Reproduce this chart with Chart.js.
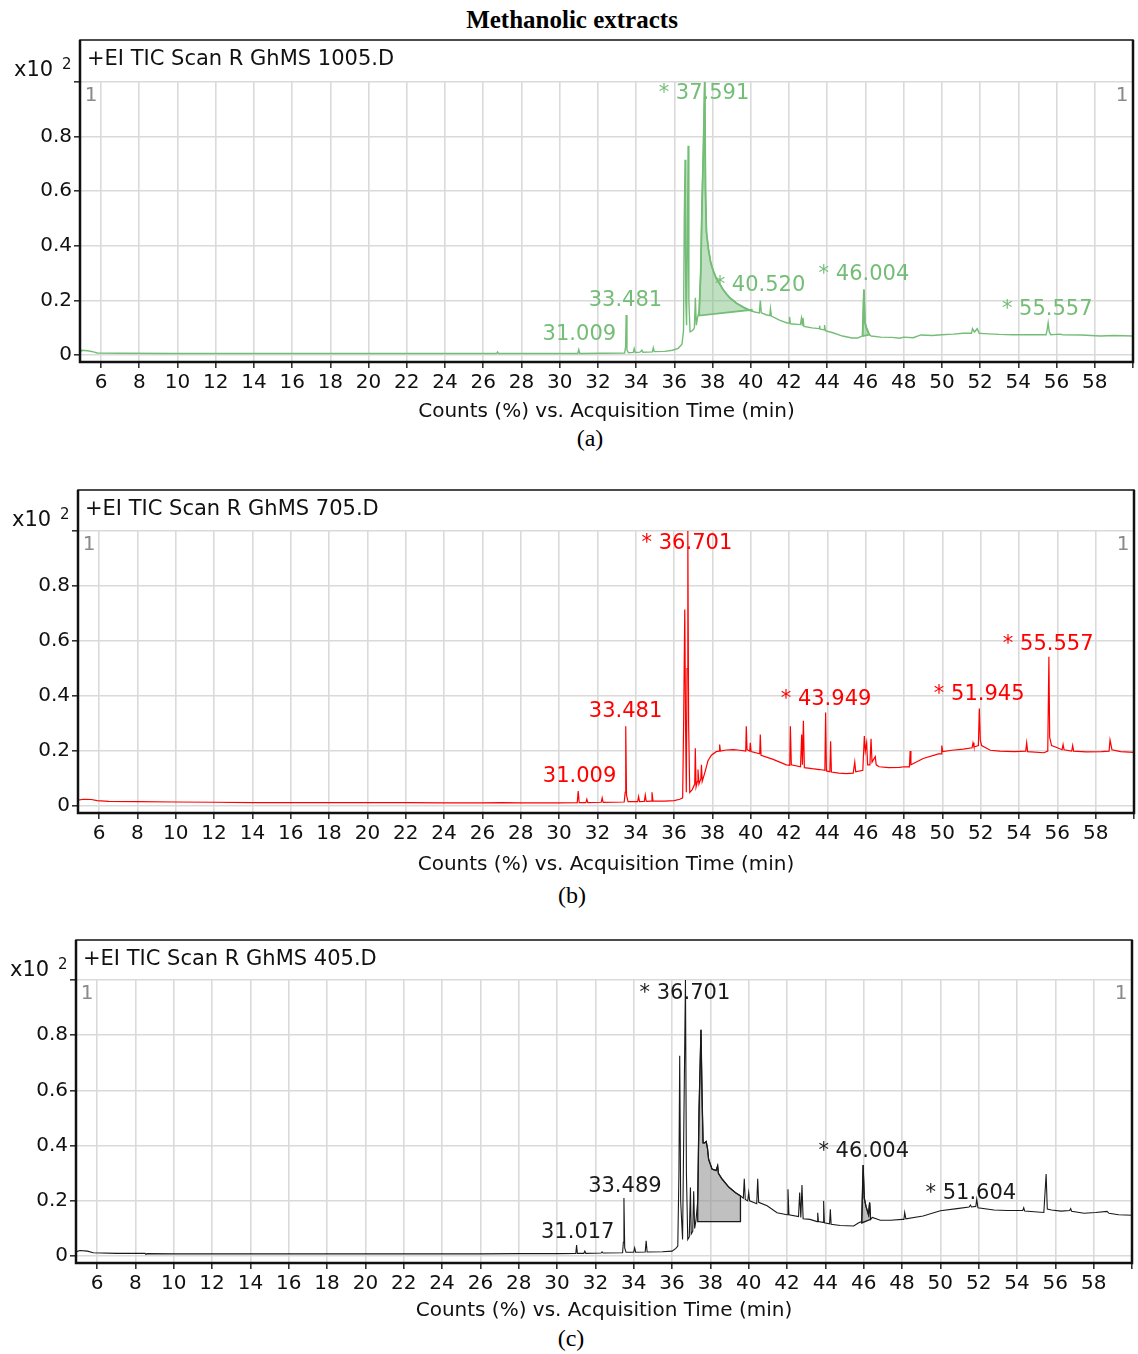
<!DOCTYPE html>
<html>
<head>
<meta charset="utf-8">
<script src="https://cdn.jsdelivr.net/npm/chart.js@4.4.1/dist/chart.umd.min.js"></script>
<style>
  html, body { margin: 0; padding: 0; background: #fff; }
  body { width: 1138px; height: 1354px; position: relative; overflow: hidden; }
  .wrap { position: absolute; left: 0; }
  #mainTitle { position: absolute; left: 0; width: 1144px; top: 6px; text-align: center;
    font: bold 25px 'Liberation Serif', 'DejaVu Serif', serif; color: #000; }
  .cap { position: absolute; width: 60px; text-align: center;
    font: 24px 'Liberation Serif', 'DejaVu Serif', serif; color: #000; }
</style>
</head>
<body>
<div id="mainTitle">Methanolic extracts</div>
<div class="wrap" id="wA"><canvas id="cA"></canvas></div>
<div class="wrap" id="wB"><canvas id="cB"></canvas></div>
<div class="wrap" id="wC"><canvas id="cC"></canvas></div>
<div class="cap" id="capA">(a)</div>
<div class="cap" id="capB">(b)</div>
<div class="cap" id="capC">(c)</div>
<script>
// ---------------- DATA ----------------
const timeTicks = [6,8,10,12,14,16,18,20,22,24,26,28,30,32,34,36,38,40,42,44,46,48,50,52,54,56,58,60];
const countTicks = [0, 0.2, 0.4, 0.6, 0.8, 1.0];
const headerA = '+EI TIC Scan R GhMS 1005.D';
const headerB = '+EI TIC Scan R GhMS 705.D';
const headerC = '+EI TIC Scan R GhMS 405.D';
const axisTitle = 'Counts (%) vs. Acquisition Time (min)';

// Panel (a) trace: [time (min), counts (x10^2)]
const traceA = [[4.9,0.01],[5.0,0.018],[5.3,0.016],[5.6,0.012],[5.8,0.008],[7,0.007],[10,0.006],[14,0.006],[18,0.006],[22,0.006],[26,0.006],[26.7,0.006],[26.75,0.012],[26.8,0.006],[28,0.006],[30,0.006],[30.95,0.006],[31.0,0.02],[31.05,0.006],[32.3,0.007],[33.4,0.008],[33.45,0.03],[33.48,0.147],[33.52,0.02],[33.6,0.009],[33.85,0.01],[33.9,0.024],[33.95,0.01],[34.2,0.011],[34.3,0.018],[34.35,0.011],[34.85,0.012],[34.9,0.027],[34.95,0.013],[35.5,0.014],[35.9,0.018],[36.2,0.025],[36.4,0.04],[36.48,0.09],[36.52,0.5],[36.56,0.715],[36.6,0.2],[36.64,0.11],[36.68,0.4],[36.72,0.767],[36.76,0.2],[36.82,0.085],[36.95,0.09],[37.05,0.1],[37.1,0.21],[37.15,0.11],[37.22,0.14],[37.3,0.16],[37.38,0.3],[37.45,0.56],[37.52,0.75],[37.59,1.0],[37.63,0.6],[37.68,0.45],[37.78,0.39],[37.9,0.34],[38.03,0.31],[38.2,0.28],[38.38,0.26],[38.55,0.24],[38.73,0.224],[38.9,0.21],[39.08,0.2],[39.25,0.19],[39.43,0.183],[39.6,0.176],[39.77,0.17],[39.9,0.166],[40.05,0.162],[40.2,0.158],[40.45,0.155],[40.5,0.2],[40.55,0.155],[40.8,0.148],[41.0,0.145],[41.03,0.17],[41.08,0.143],[41.5,0.128],[41.9,0.118],[42.0,0.118],[42.03,0.14],[42.07,0.115],[42.6,0.112],[42.65,0.135],[42.7,0.11],[42.73,0.137],[42.78,0.105],[43.2,0.1],[43.58,0.097],[43.6,0.108],[43.63,0.095],[43.84,0.093],[43.86,0.11],[43.9,0.09],[44.3,0.082],[44.8,0.07],[45.3,0.063],[45.6,0.063],[45.75,0.068],[45.85,0.07],[45.92,0.24],[45.97,0.12],[46.05,0.1],[46.2,0.075],[46.3,0.07],[46.8,0.066],[47.4,0.065],[47.8,0.062],[48,0.066],[48.5,0.064],[48.9,0.074],[49.5,0.072],[50,0.075],[50.6,0.077],[51.1,0.08],[51.55,0.08],[51.6,0.097],[51.7,0.085],[51.85,0.097],[51.95,0.08],[52.2,0.079],[53,0.076],[53.7,0.075],[54.5,0.075],[55.45,0.075],[55.5,0.09],[55.56,0.118],[55.62,0.085],[55.7,0.075],[56.2,0.077],[56.3,0.075],[57.3,0.074],[58.3,0.07],[59.0,0.072],[60,0.07]];

const traceB = [[4.9,0.022],[5.2,0.025],[5.6,0.024],[5.9,0.02],[6.5,0.017],[8,0.016],[10,0.015],[12,0.014],[14,0.013],[16,0.013],[18,0.013],[20,0.013],[22,0.013],[24,0.012],[26,0.012],[27,0.013],[28,0.012],[30,0.012],[30.95,0.013],[31.0,0.055],[31.05,0.013],[31.4,0.013],[31.45,0.025],[31.5,0.013],[32.2,0.014],[32.25,0.03],[32.3,0.014],[33.4,0.015],[33.45,0.05],[33.48,0.29],[33.52,0.04],[33.6,0.016],[34.1,0.016],[34.15,0.035],[34.2,0.016],[34.45,0.017],[34.5,0.04],[34.55,0.017],[34.8,0.018],[34.85,0.05],[34.9,0.018],[35.5,0.018],[36.0,0.02],[36.3,0.025],[36.45,0.03],[36.5,0.3],[36.56,0.715],[36.6,0.3],[36.64,0.05],[36.68,0.5],[36.72,1.0],[36.76,0.3],[36.82,0.05],[36.95,0.06],[37.08,0.08],[37.11,0.21],[37.15,0.07],[37.22,0.09],[37.25,0.133],[37.3,0.08],[37.4,0.1],[37.43,0.15],[37.47,0.09],[37.6,0.12],[37.77,0.165],[37.95,0.185],[38.2,0.198],[38.35,0.2],[38.38,0.224],[38.42,0.2],[38.73,0.204],[39.1,0.205],[39.43,0.203],[39.74,0.2],[39.77,0.29],[39.81,0.205],[39.95,0.2],[39.98,0.23],[40.02,0.198],[40.47,0.19],[40.5,0.26],[40.54,0.185],[41.17,0.17],[41.86,0.15],[42.04,0.148],[42.07,0.29],[42.12,0.15],[42.6,0.143],[42.66,0.26],[42.7,0.15],[42.75,0.31],[42.8,0.14],[43.2,0.136],[43.6,0.133],[43.87,0.13],[43.91,0.34],[43.95,0.128],[44.13,0.125],[44.17,0.236],[44.21,0.124],[44.6,0.12],[44.99,0.118],[45.35,0.12],[45.43,0.16],[45.48,0.125],[45.85,0.13],[45.93,0.255],[45.98,0.2],[46.05,0.23],[46.1,0.15],[46.22,0.15],[46.28,0.245],[46.33,0.16],[46.5,0.18],[46.55,0.15],[46.7,0.143],[47.2,0.14],[47.77,0.141],[48.0,0.143],[48.28,0.143],[48.32,0.2],[48.36,0.15],[49.0,0.173],[49.8,0.19],[49.93,0.19],[49.97,0.22],[50.02,0.198],[50.5,0.203],[51.1,0.207],[51.55,0.212],[51.6,0.23],[51.65,0.215],[51.88,0.22],[51.93,0.355],[51.98,0.24],[52.05,0.22],[52.5,0.203],[53.0,0.2],[53.75,0.198],[54.35,0.2],[54.4,0.23],[54.45,0.198],[55.3,0.194],[55.5,0.2],[55.56,0.543],[55.6,0.25],[55.7,0.22],[56.0,0.212],[56.25,0.205],[56.3,0.224],[56.35,0.205],[56.75,0.2],[56.8,0.22],[56.85,0.2],[57.5,0.197],[58.3,0.198],[58.7,0.2],[58.75,0.24],[58.85,0.205],[59.3,0.198],[60,0.195]];

const traceC = [[4.9,0.015],[5.1,0.02],[5.5,0.018],[5.8,0.012],[7,0.01],[8.5,0.01],[8.55,0.006],[8.6,0.009],[10,0.008],[14,0.008],[18,0.008],[22,0.008],[26,0.008],[28,0.009],[30,0.009],[30.98,0.01],[31.02,0.04],[31.06,0.01],[31.4,0.01],[31.45,0.018],[31.5,0.01],[32.3,0.011],[32.35,0.015],[32.4,0.011],[33.42,0.012],[33.46,0.05],[33.49,0.21],[33.53,0.03],[33.6,0.014],[34.0,0.014],[34.05,0.03],[34.1,0.014],[34.6,0.015],[34.65,0.055],[34.7,0.015],[35.5,0.016],[36.0,0.018],[36.2,0.028],[36.3,0.036],[36.36,0.3],[36.4,0.726],[36.45,0.2],[36.55,0.06],[36.62,0.5],[36.7,1.0],[36.75,0.3],[36.82,0.06],[36.9,0.07],[36.96,0.248],[37.0,0.08],[37.08,0.09],[37.13,0.235],[37.18,0.1],[37.25,0.13],[37.34,0.2],[37.41,0.53],[37.51,0.82],[37.57,0.57],[37.62,0.41],[37.7,0.41],[37.78,0.415],[37.85,0.39],[37.91,0.35],[38.09,0.315],[38.3,0.31],[38.38,0.327],[38.42,0.3],[38.6,0.28],[38.96,0.25],[39.3,0.23],[39.57,0.218],[39.72,0.21],[39.77,0.28],[39.82,0.205],[39.95,0.2],[40.0,0.23],[40.05,0.2],[40.42,0.19],[40.47,0.28],[40.52,0.195],[40.96,0.182],[41.48,0.157],[42.0,0.15],[42.05,0.242],[42.1,0.15],[42.6,0.143],[42.66,0.23],[42.72,0.14],[42.78,0.257],[42.84,0.135],[43.2,0.133],[43.57,0.125],[43.6,0.157],[43.64,0.125],[43.88,0.122],[43.91,0.2],[43.95,0.121],[44.22,0.117],[44.26,0.17],[44.3,0.115],[44.78,0.111],[45.48,0.109],[45.74,0.121],[45.9,0.125],[45.97,0.33],[46.03,0.21],[46.12,0.18],[46.25,0.15],[46.31,0.194],[46.36,0.133],[46.45,0.14],[46.87,0.13],[47.4,0.13],[48.0,0.133],[48.1,0.133],[48.14,0.158],[48.2,0.135],[49.1,0.145],[50.0,0.164],[50.87,0.172],[51.5,0.178],[51.57,0.185],[51.62,0.178],[51.85,0.18],[51.9,0.206],[51.96,0.175],[52.8,0.167],[53.5,0.165],[54.3,0.165],[54.35,0.175],[54.4,0.163],[55.4,0.158],[55.52,0.297],[55.58,0.17],[55.8,0.167],[56.3,0.163],[56.75,0.165],[56.8,0.172],[56.85,0.162],[57.5,0.155],[58.1,0.158],[58.7,0.162],[58.8,0.155],[59.3,0.15],[60,0.148]];

// integrated (shaded) regions: start time, end time, baseline count at start, baseline count at end
const fillStartA = [37.3, 45.85];
const fillEndA   = [40.05, 46.2];
const fillBase0A = [0.145, 0.07];
const fillBase1A = [0.166, 0.075];
const fillStartC = [37.34, 45.9];
const fillEndC   = [39.57, 46.36];
const fillBase0C = [0.125, 0.12];
const fillBase1C = [0.125, 0.133];

// peak annotations: text, starred, anchor time, anchor count (centre of the number)
const labelTextA = ['31.009','33.481','37.591','40.520','46.004','55.557'];
const labelStarA = [false,false,true,true,true,true];
const labelTimeA = [31.03,33.44,38.0,40.93,46.37,55.96];
const labelCountA = [0.077,0.201,0.957,0.256,0.296,0.168];

const labelTextB = ['31.009','33.481','36.701','43.949','51.945','55.557'];
const labelStarB = [false,false,true,true,true,true];
const labelTimeB = [31.07,33.47,37.12,44.38,52.37,55.97];
const labelCountB = [0.109,0.342,0.956,0.389,0.404,0.589];

const labelTextC = ['31.017','33.489','36.701','46.004','51.604'];
const labelStarC = [false,false,true,true,true];
const labelTimeC = [31.08,33.54,37.12,46.45,52.04];
const labelCountC = [0.087,0.253,0.952,0.38,0.228];

// ---------------- RENDERING ----------------
const FONT = "'DejaVu Sans', 'Liberation Sans', sans-serif";

const panels = [
  { id:'A', trace:traceA, header:headerA, color:'#74bd76', fillColor:'rgba(116,189,118,0.45)', fillBorder:'#74bd76',
    fS:fillStartA, fE:fillEndA, fB0:fillBase0A, fB1:fillBase1A,
    lt:labelTextA, ls:labelStarA, lx:labelTimeA, ly:labelCountA,
    geo:{canvasTop:30, boxTop:40, plotTop:82, axisY:362, titleY:412, plotLeft:80, plotRight:1133},
    cap:{x:590, y:440}, lineW:1.4 },
  { id:'B', trace:traceB, header:headerB, color:'#ff0000', fillColor:'rgba(255,0,0,0.3)', fillBorder:'#ff0000',
    fS:[], fE:[], fB0:[], fB1:[],
    lt:labelTextB, ls:labelStarB, lx:labelTimeB, ly:labelCountB,
    geo:{canvasTop:480, boxTop:490, plotTop:531, axisY:813, titleY:865, plotLeft:78, plotRight:1134},
    cap:{x:572, y:897}, lineW:1.2 },
  { id:'C', trace:traceC, header:headerC, color:'#1a1a1a', fillColor:'rgba(150,150,150,0.6)', fillBorder:'#1a1a1a',
    fS:fillStartC, fE:fillEndC, fB0:fillBase0C, fB1:fillBase1C,
    lt:labelTextC, ls:labelStarC, lx:labelTimeC, ly:labelCountC,
    geo:{canvasTop:930, boxTop:940, plotTop:980, axisY:1263, titleY:1311, plotLeft:76, plotRight:1132},
    cap:{x:571, y:1340}, lineW:1.1 }
];

const decor = {
  id: 'decor',
  afterDraw(chart, args, opts) {
    const p = opts.panel; const g = p.geo;
    const ctx = chart.ctx; const ca = chart.chartArea;
    const xs = chart.scales.x, ys = chart.scales.y;
    const boxTop = g.boxTop - g.canvasTop;
    ctx.save();
    // header text
    ctx.fillStyle = '#111';
    ctx.font = '21px ' + FONT;
    ctx.textAlign = 'left'; ctx.textBaseline = 'middle';
    ctx.fillText(p.header, ca.left + 7, boxTop + 20);
    // x10^2 unit
    ctx.textBaseline = 'alphabetic';
    ctx.font = '21px ' + FONT;
    ctx.fillText('x10', ca.left - 66, boxTop + 36);
    ctx.font = '15px ' + FONT;
    ctx.fillText('2', ca.left - 18, boxTop + 29);
    // '1' markers
    ctx.fillStyle = '#8a8a8a';
    ctx.font = '20px ' + FONT;
    ctx.textBaseline = 'middle';
    ctx.textAlign = 'center';
    ctx.fillText('1', ca.left + 11, ca.top + 14);
    ctx.fillText('1', ca.right - 11, ca.top + 14);
    // peak labels
    ctx.fillStyle = p.color;
    ctx.font = '21px ' + FONT;
    ctx.textAlign = 'left';
    for (let i = 0; i < p.lt.length; i++) {
      const cx = xs.getPixelForValue(p.lx[i]);
      const cy = ys.getPixelForValue(p.ly[i]);
      const w = ctx.measureText(p.lt[i]).width;
      const pre = p.ls[i] ? '* ' : '';
      const pw = ctx.measureText(pre).width;
      ctx.fillText(pre + p.lt[i], cx - w / 2 - pw, cy);
    }
    // frame
    ctx.strokeStyle = '#111';
    ctx.lineWidth = 1.5;
    ctx.strokeRect(ca.left, boxTop, ca.right - ca.left, ca.bottom - boxTop);
    ctx.lineWidth = 2.5;
    ctx.beginPath();
    ctx.moveTo(ca.left, boxTop); ctx.lineTo(ca.left, ca.bottom); ctx.lineTo(ca.right, ca.bottom); ctx.lineTo(ca.right, boxTop);
    ctx.stroke();
    ctx.restore();
  }
};

panels.forEach(p => {
  const g = p.geo;
  const xAxisH = g.titleY - g.axisY + 12;
  const H = g.axisY - g.canvasTop + xAxisH;
  const wrap = document.getElementById('w' + p.id);
  wrap.style.top = g.canvasTop + 'px';
  const cv = document.getElementById('c' + p.id);
  cv.width = 1138; cv.height = H;
  cv.style.width = '1138px'; cv.style.height = H + 'px';
  const cap = document.getElementById('cap' + p.id);
  cap.style.left = (p.cap.x - 30) + 'px';
  cap.style.top = (p.cap.y - 15) + 'px';

  const datasets = [{
    data: p.trace.map(d => ({x: d[0], y: d[1]})),
    borderColor: p.color, borderWidth: p.lineW, pointRadius: 0, tension: 0, fill: false
  }];
  for (let i = 0; i < p.fS.length; i++) {
    const poly = p.trace.filter(d => d[0] >= p.fS[i] && d[0] <= p.fE[i]).map(d => ({x: d[0], y: d[1]}));
    poly.push({x: p.fE[i], y: p.fB1[i]});
    poly.push({x: p.fS[i], y: p.fB0[i]});
    poly.push({x: poly[0].x, y: poly[0].y});
    datasets.push({
      data: poly, borderColor: p.fillBorder, borderWidth: p.id === 'A' ? 1.8 : 1.3,
      backgroundColor: p.fillColor, pointRadius: 0, tension: 0, fill: 'shape'
    });
  }

  new Chart(cv, {
    type: 'line',
    data: { datasets },
    options: {
      responsive: false, animation: false, devicePixelRatio: 1,
      layout: { padding: { top: g.plotTop - g.canvasTop, right: 1138 - g.plotRight, left: 0, bottom: 0 } },
      plugins: { legend: { display: false }, tooltip: { enabled: false }, decor: { panel: p } },
      scales: {
        x: {
          type: 'linear', min: 4.9, max: 60,
          afterBuildTicks: s => { s.ticks = timeTicks.map(v => ({value: v})); },
          afterFit: s => { s.height = xAxisH; },
          ticks: { font: { family: FONT, size: 20 }, color: '#111', padding: 3, maxRotation: 0, autoSkip: false,
                   callback: v => (v === 60 ? '' : String(v)) },
          grid: { color: '#dadada', lineWidth: 1.6, tickLength: 6, tickColor: '#333', drawTicks: true },
          border: { display: false },
          title: { display: true, text: axisTitle, font: { family: FONT, size: 20 }, color: '#111', padding: 0 }
        },
        y: {
          type: 'linear', min: -0.025, max: 1.0,
          afterBuildTicks: s => { s.ticks = countTicks.map(v => ({value: v})); },
          afterFit: s => { s.width = g.plotLeft; },
          ticks: { font: { family: FONT, size: 20 }, color: '#111', padding: 2,
                   callback: v => (v === 1 ? '' : (v === 0 ? '0' : v.toFixed(1))) },
          grid: { color: '#dadada', lineWidth: 1.6, tickLength: 6, tickColor: '#333', drawTicks: true },
          border: { display: false }
        }
      }
    },
    plugins: [decor]
  });
});
</script>
</body>
</html>
